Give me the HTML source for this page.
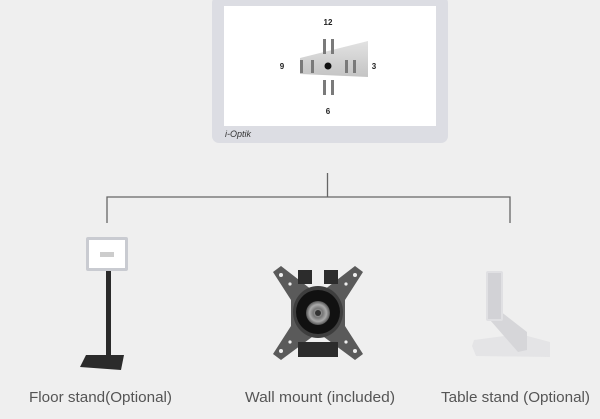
<!DOCTYPE html>
<html><head><meta charset="utf-8"><style>
html,body{margin:0;padding:0;background:#efefef;}
svg{display:block}
</style></head><body>
<svg width="600" height="419" viewBox="0 0 600 419" xmlns="http://www.w3.org/2000/svg">
<rect width="600" height="419" fill="#efefef"/>
<defs>
<linearGradient id="wg" x1="0" y1="0" x2="0" y2="1"><stop offset="0" stop-color="#e2e2e2"/><stop offset="1" stop-color="#c4c4c4"/></linearGradient>
<radialGradient id="lens"><stop offset="0" stop-color="#bbb"/><stop offset="0.4" stop-color="#777"/><stop offset="0.7" stop-color="#aaa"/><stop offset="1" stop-color="#555"/></radialGradient>
</defs>
<!-- monitor -->
<rect x="212" y="-4" width="236" height="147" rx="7" fill="#dcdde3"/>
<rect x="224" y="6" width="212" height="120" fill="#ffffff"/>
<polygon points="300,58 368,41 368,77 300,74" fill="url(#wg)"/>
<g fill="#7a7a7a">
<rect x="323" y="39" width="3" height="15"/><rect x="331" y="39" width="3" height="15"/>
<rect x="323" y="80" width="3" height="15"/><rect x="331" y="80" width="3" height="15"/>
<rect x="300" y="60" width="3" height="13"/><rect x="311" y="60" width="3" height="13"/>
<rect x="345" y="60" width="3" height="13"/><rect x="353" y="60" width="3" height="13"/>
</g>
<circle cx="328" cy="66" r="3.5" fill="#111"/>
<g font-family="Liberation Sans, sans-serif" font-weight="bold" font-size="8" fill="#222" text-anchor="middle">
<text x="328" y="25">12</text><text x="282" y="69">9</text><text x="374" y="69">3</text><text x="328" y="114">6</text>
</g>
<text x="225" y="137" font-family="Liberation Sans, sans-serif" font-style="italic" font-size="9" fill="#333">i-Optik</text>
<!-- connectors -->
<g stroke="#666" stroke-width="1.3" fill="none">
<line x1="327.5" y1="173" x2="327.5" y2="197"/>
<polyline points="107,223 107,197 510,197 510,223"/>
</g>
<!-- floor stand -->
<rect x="86" y="237" width="42" height="34" rx="2" fill="#c9cbd1"/>
<rect x="89" y="240" width="36" height="28" fill="#fff"/>
<rect x="100" y="252" width="14" height="5" fill="#ccc"/>
<rect x="106" y="271" width="5" height="86" fill="#2a2a2a"/>
<polygon points="86,355 124,355 121,370 80,367" fill="#2b2b2b"/>
<!-- wall mount -->
<path d="M273,272 L281,266 L312,290 L324,290 L355,266 L363,272 L345,300 L345,326 L363,354 L355,360 L324,337 L312,337 L281,360 L273,354 L291,326 L291,300 Z" fill="#5a5a5a"/>
<rect x="298" y="270" width="14" height="14" fill="#2c2c2c"/><rect x="324" y="270" width="14" height="14" fill="#2c2c2c"/>
<rect x="298" y="342" width="40" height="15" fill="#2c2c2c"/>
<ellipse cx="318" cy="312" rx="25" ry="26" fill="#3e3e3e"/>
<circle cx="318" cy="312" r="22" fill="#111"/>
<circle cx="318" cy="313" r="12" fill="url(#lens)"/>
<circle cx="318" cy="313" r="3" fill="#333"/>
<g fill="#eee"><circle cx="281" cy="275" r="2"/><circle cx="355" cy="275" r="2"/><circle cx="281" cy="351" r="2"/><circle cx="355" cy="351" r="2"/><circle cx="290" cy="284" r="1.6"/><circle cx="346" cy="284" r="1.6"/><circle cx="290" cy="342" r="1.6"/><circle cx="346" cy="342" r="1.6"/></g>
<!-- table stand -->
<polygon points="474,340 520,334 550,342 550,357 476,356 472,346" fill="#e4e4e6"/>
<polygon points="490,320 500,311 527,332 527,350 518,352" fill="#d6d6d9"/>
<rect x="486" y="271" width="17" height="50" rx="2" fill="#e0e0e3"/>
<rect x="488" y="273" width="13" height="46" fill="#d2d2d6"/>
<!-- labels -->
<g font-family="Liberation Sans, sans-serif" font-size="15" fill="#555">
<text x="29" y="402" textLength="143" lengthAdjust="spacingAndGlyphs">Floor stand(Optional)</text>
<text x="245" y="402" textLength="150" lengthAdjust="spacingAndGlyphs">Wall mount (included)</text>
<text x="441" y="402" textLength="149" lengthAdjust="spacingAndGlyphs">Table stand (Optional)</text>
</g>
</svg>
</body></html>
